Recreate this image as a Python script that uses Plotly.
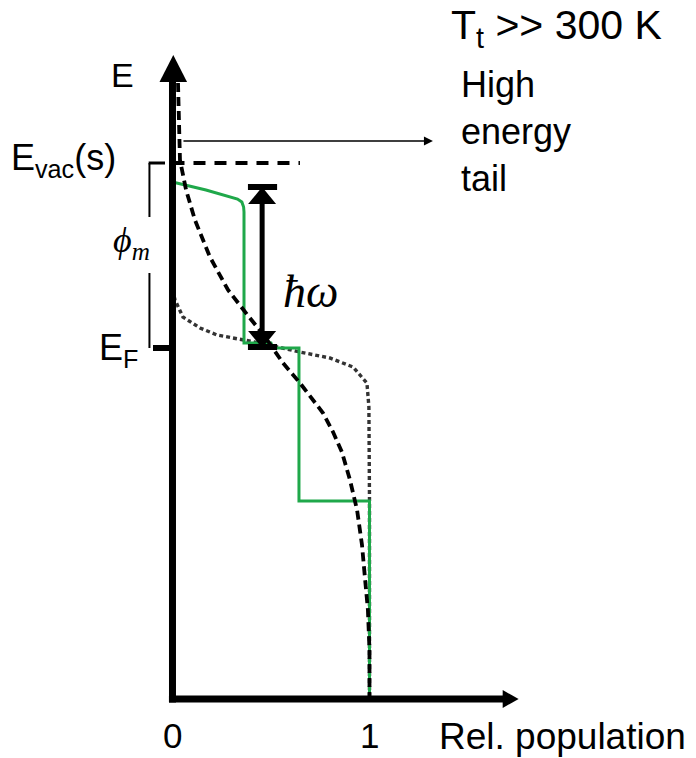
import plotly.graph_objects as go

# Energy scale (arbitrary units, Fermi level at 0)
E_F = 0.0
E_VAC = 1.85
E_MIN = -3.51
HBAR_OMEGA = 1.61

# Hot-electron distribution (high electron temperature), dashed
hot_pop = [0.028, 0.033, 0.038, 0.069, 0.114, 0.190, 0.282, 0.393, 0.470, 0.561,
           0.647, 0.764, 0.815, 0.860, 0.901, 0.937, 0.962, 0.977, 0.992, 1.0, 1.0]
hot_E = [2.65, 2.28, 1.88, 1.58, 1.28, 0.91, 0.58, 0.30, 0.11, -0.15,
         -0.35, -0.65, -0.84, -1.04, -1.32, -1.62, -1.97, -2.30, -2.62, -3.02, -3.51]

# Room-temperature Fermi-Dirac distribution, dotted
rt_pop = [0.0, 0.013, 0.053, 0.140, 0.226, 0.307, 0.444, 0.647, 0.799, 0.916,
          0.987, 0.997, 1.0, 1.0]
rt_E = [0.58, 0.48, 0.31, 0.20, 0.13, 0.10, 0.05, -0.04, -0.10, -0.19,
        -0.35, -0.59, -1.52, -3.51]

# Non-thermal distribution right after photo-excitation, green
nt_pop = [0.0, 0.17, 0.33, 0.352, 0.361, 0.363, 0.363, 0.50, 0.51, 0.642, 0.642, 1.0, 1.0]
nt_E = [1.66, 1.58, 1.49, 1.46, 1.41, 1.36, 0.05, 0.05, 0.0, 0.0, -1.53, -1.53, -3.51]

# Tick labels on the population axis
pop_ticks = [0, 1]
pop_tick_text = ["0", "1"]

SANS = "Liberation Sans, Arial, sans-serif"
SERIF = "Liberation Serif, Times New Roman, serif"

fig = go.Figure()
fig.add_trace(go.Scatter(x=rt_pop, y=rt_E, mode="lines", hoverinfo="skip",
                         line=dict(color="#333333", width=3.4, dash="4px,3px")))
fig.add_trace(go.Scatter(x=nt_pop, y=nt_E, mode="lines", hoverinfo="skip",
                         line=dict(color="#1fa84a", width=3)))
fig.add_trace(go.Scatter(x=hot_pop, y=hot_E, mode="lines", hoverinfo="skip",
                         line=dict(color="black", width=3.8, dash="9px,5px")))

shapes = []
# energy axis with arrow
shapes.append(dict(type="line", x0=0, x1=0, y0=E_MIN - 0.035, y1=2.66,
                   line=dict(color="black", width=7)))
shapes.append(dict(type="path", path="M -0.066,2.66 L 0.074,2.66 L 0.004,2.93 Z",
                   fillcolor="black", line=dict(width=0)))
# population axis with arrow
shapes.append(dict(type="line", x0=-0.018, x1=1.68, y0=E_MIN, y1=E_MIN,
                   line=dict(color="black", width=7)))
shapes.append(dict(type="path",
                   path=f"M 1.676,{E_MIN - 0.09} L 1.676,{E_MIN + 0.09} L 1.757,{E_MIN} Z",
                   fillcolor="black", line=dict(width=0)))
# vacuum level
shapes.append(dict(type="line", x0=0.0, x1=0.647, y0=E_VAC, y1=E_VAC,
                   line=dict(color="black", width=4, dash="12px,9px")))
# Fermi level tick
shapes.append(dict(type="line", x0=-0.099, x1=0, y0=E_F, y1=E_F,
                   line=dict(color="black", width=6)))
# work function bracket
BX = -0.117
shapes.append(dict(type="line", x0=BX, x1=BX, y0=E_VAC, y1=1.31, line=dict(color="black", width=2)))
shapes.append(dict(type="line", x0=BX, x1=BX, y0=0.75, y1=E_F, line=dict(color="black", width=2)))
shapes.append(dict(type="line", x0=BX - 0.004, x1=-0.038, y0=E_VAC, y1=E_VAC,
                   line=dict(color="black", width=3)))
# photon energy double arrow
AXX = 0.455
HW = 0.071
HH = 0.17
E_TOP = E_F + HBAR_OMEGA
shapes.append(dict(type="line", x0=AXX, x1=AXX, y0=E_F + 0.05, y1=E_TOP - 0.05,
                   line=dict(color="black", width=5)))
shapes.append(dict(type="line", x0=AXX - 0.072, x1=AXX + 0.076, y0=E_TOP, y1=E_TOP,
                   line=dict(color="black", width=6)))
shapes.append(dict(type="line", x0=AXX - 0.072, x1=AXX + 0.076, y0=E_F + 0.01, y1=E_F + 0.01,
                   line=dict(color="black", width=6)))
shapes.append(dict(type="path",
                   path=f"M {AXX},{E_TOP} L {AXX - HW},{E_TOP - HH} L {AXX + HW},{E_TOP - HH} Z",
                   fillcolor="black", line=dict(width=0)))
shapes.append(dict(type="path",
                   path=f"M {AXX},{E_F} L {AXX - HW},{E_F + HH} L {AXX + HW},{E_F + HH} Z",
                   fillcolor="black", line=dict(width=0)))
for s in shapes:
    s.setdefault("xref", "x")
    s.setdefault("yref", "y")
    s.setdefault("layer", "above")

annotations = []


def label(text, x, y, size, xanchor="center", yanchor="middle", family=SANS, align="center"):
    annotations.append(dict(text=text, x=x, y=y, xref="x", yref="y", showarrow=False,
                            xanchor=xanchor, yanchor=yanchor, align=align,
                            font=dict(family=family, size=size, color="black")))


label("E", -0.254, 2.73, 34)
label("E<sub>vac</sub>(s)", -0.830, 1.88, 36, xanchor="left")
label("E<sub>F</sub>", -0.383, -0.02, 36, xanchor="left")
label("T<sub>t</sub> &gt;&gt; 300 K", 1.404, 3.20, 41, xanchor="left")
label("High<br>energy<br>tail", 1.454, 2.86, 36, xanchor="left", yanchor="top", align="left")
label("Rel. population", 1.343, -3.88, 37, xanchor="left")
for p, t in zip(pop_ticks, pop_tick_text):
    label(t, p, -3.875, 35)
label("<i>ħω</i>", 0.698, 0.57, 46, family=SERIF)
label("<i>ϕ</i><sub><i>m</i></sub>", -0.206, 1.06, 36, family=SERIF)

# pointer to the high-energy tail
annotations.append(dict(x=1.322, y=2.07, ax=0.048, ay=2.07, xref="x", yref="y",
                        axref="x", ayref="y", text="", showarrow=True, arrowhead=2,
                        arrowsize=1.2, arrowwidth=1.5, arrowcolor="black", standoff=0))

fig.update_layout(
    width=696, height=758,
    margin=dict(l=0, r=0, t=0, b=0),
    paper_bgcolor="white", plot_bgcolor="white",
    showlegend=False,
    xaxis=dict(range=[-0.8756, 2.6574], visible=False, fixedrange=True),
    yaxis=dict(range=[-4.10, 3.48], visible=False, fixedrange=True),
    shapes=shapes,
    annotations=annotations,
)

fig.write_html("out.html", config={"displayModeBar": False})
